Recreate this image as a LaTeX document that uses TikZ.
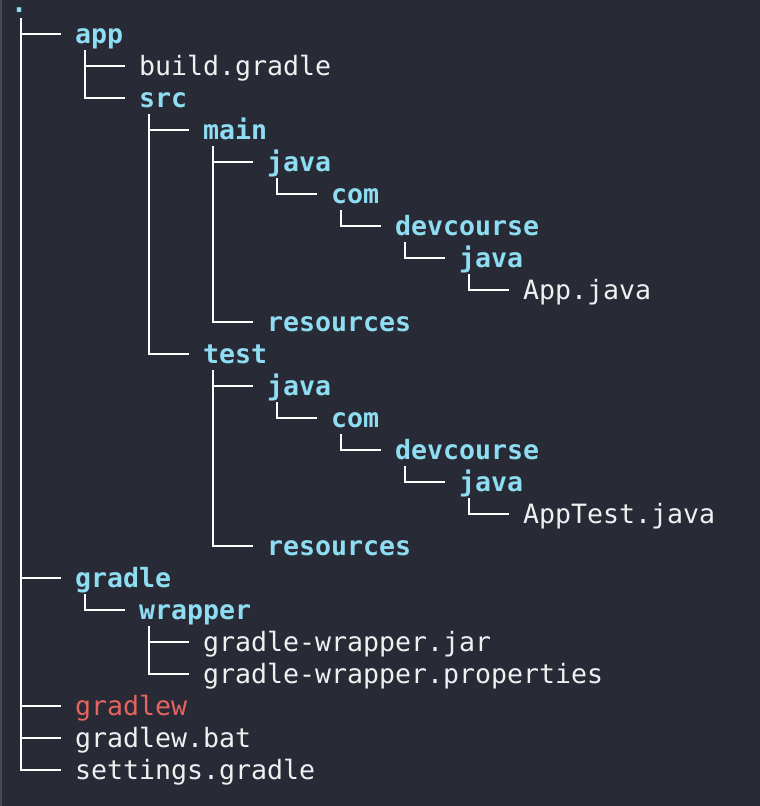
\documentclass[tikz,border=0pt]{standalone}
\usepackage{fontspec}
\newfontfamily\treemono{DejaVu Sans Mono}
\definecolor{bgc}{HTML}{282A36}
\definecolor{dirc}{HTML}{8FDDF2}
\definecolor{filec}{HTML}{F0F0F0}
\definecolor{exec}{HTML}{E6645F}
\definecolor{edgec}{HTML}{464852}
\begin{document}
\begin{tikzpicture}[x=1pt,y=-1pt,
  entry/.style={anchor=west,inner sep=0pt,outer sep=0pt,text height=21pt,text depth=2pt,
    font=\treemono\fontsize{26.58}{32}\selectfont},
  dirnode/.style={entry,text=dirc,font=\treemono\bfseries\fontsize{26.58}{32}\selectfont},
  filenode/.style={entry,text=filec},
  execnode/.style={entry,text=exec},
  conn/.style={draw=white,line width=2pt,line cap=butt,line join=miter}]
\fill[bgc] (0,0) rectangle (760,806);
\useasboundingbox (0,0) rectangle (760,806);
\draw[edgec,line width=2pt] (1,0) -- (1,806);
% nodes
\node[dirnode,text height=6pt,text depth=0pt,anchor=base west] (root) at (11,12) {.};
\coordinate (rootc) at (11,2);
\node[dirnode] (app) at (75,34) {app};
\node[filenode] (build) at (139,66) {build.gradle};
\node[dirnode] (src) at (139,98) {src};
\node[dirnode] (main) at (203,130) {main};
\node[dirnode] (mjava) at (267,162) {java};
\node[dirnode] (mcom) at (331,194) {com};
\node[dirnode] (mdev) at (395,226) {devcourse};
\node[dirnode] (mjava2) at (459,258) {java};
\node[filenode] (appjava) at (523,290) {App.java};
\node[dirnode] (mres) at (267,322) {resources};
\node[dirnode] (test) at (203,354) {test};
\node[dirnode] (tjava) at (267,386) {java};
\node[dirnode] (tcom) at (331,418) {com};
\node[dirnode] (tdev) at (395,450) {devcourse};
\node[dirnode] (tjava2) at (459,482) {java};
\node[filenode] (apptest) at (523,514) {AppTest.java};
\node[dirnode] (tres) at (267,546) {resources};
\node[dirnode] (gradle) at (75,578) {gradle};
\node[dirnode] (wrapper) at (139,610) {wrapper};
\node[filenode] (gwjar) at (203,642) {gradle-wrapper.jar};
\node[filenode] (gwprop) at (203,674) {gradle-wrapper.properties};
\node[execnode] (gradlew) at (75,706) {gradlew};
\node[filenode] (gradlewbat) at (75,738) {gradlew.bat};
\node[filenode] (settings) at (75,770) {settings.gradle};
% connectors
\foreach \p/\c in {rootc/app,rootc/gradle,rootc/gradlew,rootc/gradlewbat,rootc/settings}
  \draw[conn] (\p) ++(10,16) |- ([xshift=-14pt]\c.west);
\foreach \p/\c in {app/build,app/src,src/main,src/test,main/mjava,main/mres,mjava/mcom,mcom/mdev,
  mdev/mjava2,mjava2/appjava,test/tjava,test/tres,tjava/tcom,tcom/tdev,tdev/tjava2,
  tjava2/apptest,gradle/wrapper,wrapper/gwjar,wrapper/gwprop}
  \draw[conn] (\p.west) ++(10,16) |- ([xshift=-14pt]\c.west);
\end{tikzpicture}
\end{document}
